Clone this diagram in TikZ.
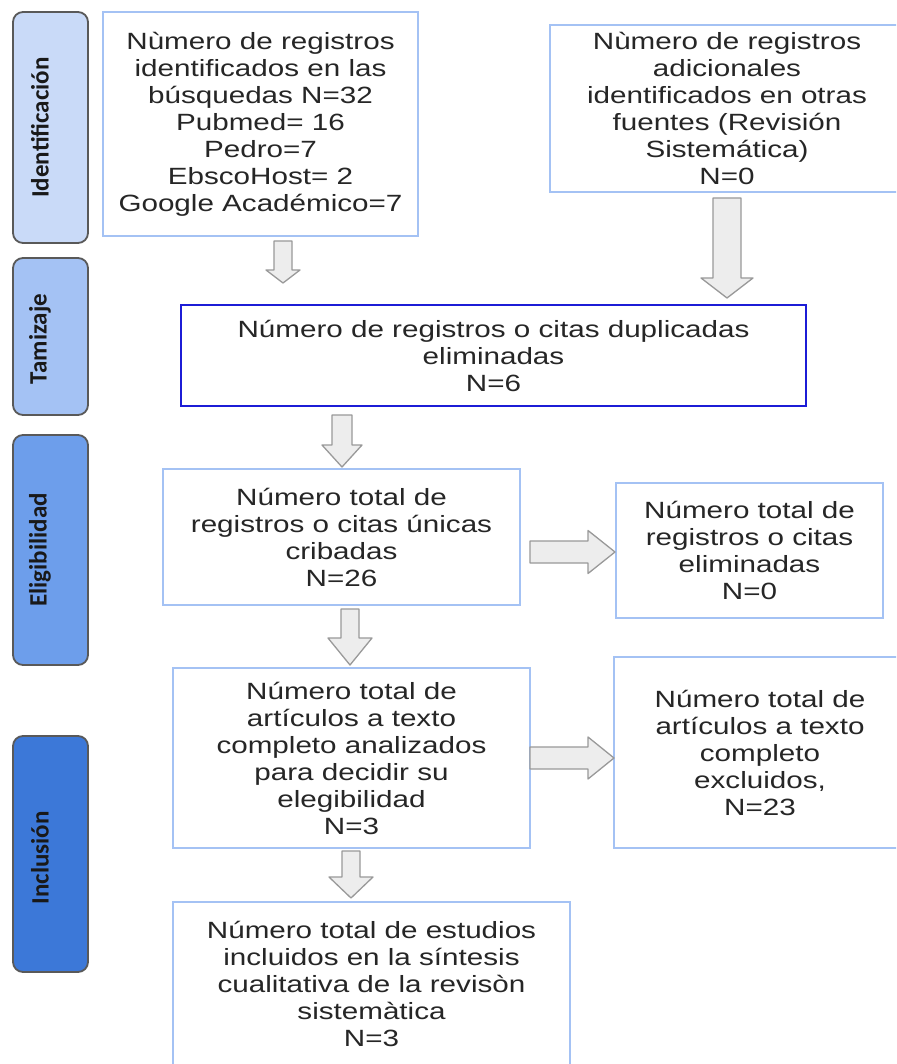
\documentclass[tikz,border=0pt]{standalone}
\usepackage{fontspec}
\setmainfont{Liberation Sans}
\newfontfamily\cajafont[FakeStretch=1.26]{Liberation Sans}
\newfontfamily\etapafont{Carlito}
\usetikzlibrary{calc}
\definecolor{bordeazul}{HTML}{A4C2F4}
\definecolor{azuloscuro}{HTML}{1C1CD6}
\definecolor{etapauno}{HTML}{C9DAF8}
\definecolor{etapados}{HTML}{A4C2F4}
\definecolor{etapatres}{HTML}{6D9EEB}
\definecolor{etapacuatro}{HTML}{3C78D8}
% flecha de bloque: desde, hasta, medio cuerpo, media cabeza, largo cabeza
\newcommand{\flechaabajo}[5]{%
  \draw[flecha] let \p1=(#1), \p2=(#2) in
    (\x1-#3pt,\y1) -- (\x1+#3pt,\y1) -- (\x1+#3pt,\y2+#5pt) -- (\x1+#4pt,\y2+#5pt)
    -- (\x1,\y2) -- (\x1-#4pt,\y2+#5pt) -- (\x1-#3pt,\y2+#5pt) -- cycle;}
\newcommand{\flechaderecha}[5]{%
  \draw[flecha] let \p1=(#1), \p2=(#2) in
    (\x1,\y1+#3pt) -- (\x2-#5pt,\y1+#3pt) -- (\x2-#5pt,\y1+#4pt) -- (\x2,\y1)
    -- (\x2-#5pt,\y1-#4pt) -- (\x2-#5pt,\y1-#3pt) -- (\x1,\y1-#3pt) -- cycle;}

\begin{document}
\begin{tikzpicture}[x=1pt,y=-1pt,
    caja/.style={draw=bordeazul,line width=1.3pt,align=center,inner sep=0pt,
      font=\cajafont\fontsize{23.5}{27}\selectfont,text=black!85},
    etapa/.style={draw=black!65,line width=1.8pt,rounded corners=10pt,inner sep=0pt,
      minimum width=75pt},
    etiqueta/.style={rotate=90,font=\etapafont\bfseries\fontsize{25}{28}\selectfont,
      text=black!90},
    flecha/.style={draw=black!40,fill=black!7,line width=1.3pt,line join=round}]
    \useasboundingbox (0,0) rectangle (896,1064);
    \fill[white] (0,0) rectangle (896,1064);
    \clip (0,0) rectangle (896,1064);

    %etapas a la izquierda
    \node[etapa,fill=etapauno,minimum height=231pt] (ident) at (50.5,127.5) {};
    \node[etapa,fill=etapados,minimum height=157pt] (tamiz) at (50.5,336.5) {};
    \node[etapa,fill=etapatres,minimum height=230pt] (eleg) at (50.5,550) {};
    \node[etapa,fill=etapacuatro,minimum height=236pt] (inclu) at (50.5,854) {};
    \node[etiqueta] (tident) at (40,127.5) {Identificación};
    \node[etiqueta] (ttamiz) at (40,339) {Tamizaje};
    \node[etiqueta] (teleg) at (40,550) {Eligibilidad};
    \node[etiqueta] (tinclu) at (40,858) {Inclusión};

    %cajas
    \node[caja,minimum width=315pt,minimum height=224pt] (busq) at (260.5,124)
      {Nùmero de registros\\identificados en las\\búsquedas N=32\\Pubmed= 16\\Pedro=7\\EbscoHost= 2\\Google Académico=7};
    \node[caja,minimum width=354pt,minimum height=167pt] (otras) at (727,108.5)
      {Nùmero de registros\\adicionales\\identificados en otras\\fuentes (Revisión\\Sistemática)\\N=0};
    \node[caja,draw=azuloscuro,line width=2.6pt,minimum width=625pt,minimum height=101pt] (dupl) at (493.5,355.5)
      {Número de registros o citas duplicadas\\eliminadas\\N=6};
    \node[caja,minimum width=357pt,minimum height=136pt] (unicas) at (341.5,537)
      {Número total de\\registros o citas únicas\\cribadas\\N=26};
    \node[caja,minimum width=267pt,minimum height=135pt] (elim) at (749.5,550.5)
      {Número total de\\registros o citas\\eliminadas\\N=0};
    \node[caja,minimum width=357pt,minimum height=180pt] (anal) at (351.5,758)
      {Número total de\\artículos a texto\\completo analizados\\para decidir su\\elegibilidad\\N=3};
    \node[caja,minimum width=292pt,minimum height=191pt] (excl) at (760,752.5)
      {Número total de\\artículos a texto\\completo\\excluidos,\\N=23};
    \node[caja,minimum width=397pt,minimum height=164pt] (sint) at (371.5,984)
      {Número total de estudios\\incluidos en la síntesis\\cualitativa de la revisòn\\sistemàtica\\N=3};

    %flechas
    \coordinate (f1a) at (283,241);  \coordinate (f1b) at (283,283);
    \coordinate (f2a) at (727,198);  \coordinate (f2b) at (727,298);
    \coordinate (f3a) at (342,415);  \coordinate (f3b) at (342,467);
    \coordinate (f4a) at (350,609);  \coordinate (f4b) at (350,665);
    \coordinate (f5a) at (351,851);  \coordinate (f5b) at (351,898);
    \coordinate (f6a) at (530,552);  \coordinate (f6b) at (615,552);
    \coordinate (f7a) at (530,758);  \coordinate (f7b) at (614,758);
    \flechaabajo{f1a}{f1b}{9}{17}{13}
    \flechaabajo{f2a}{f2b}{14}{26}{20}
    \flechaabajo{f3a}{f3b}{10}{20}{22}
    \flechaabajo{f4a}{f4b}{9}{22}{27}
    \flechaabajo{f5a}{f5b}{9}{22}{21}
    \flechaderecha{f6a}{f6b}{11}{21.5}{27}
    \flechaderecha{f7a}{f7b}{11}{21}{26}
\end{tikzpicture}
\end{document}
